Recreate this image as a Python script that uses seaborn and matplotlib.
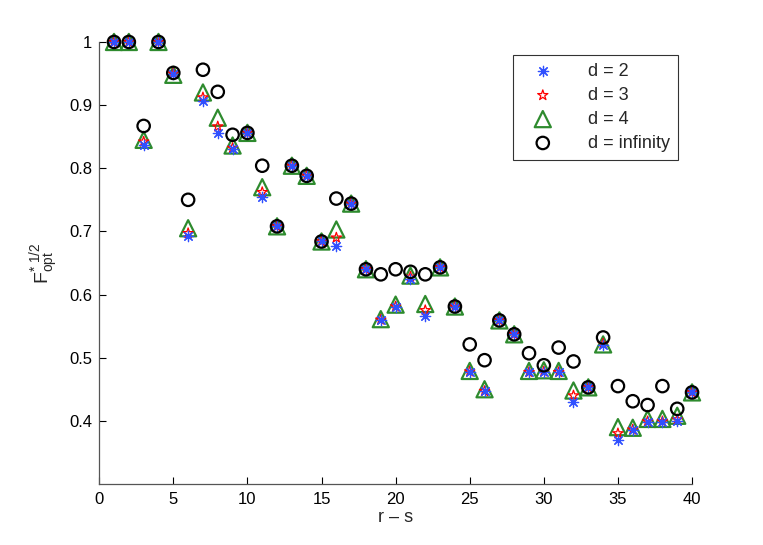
import numpy as np
import pandas as pd
import matplotlib
matplotlib.use("Agg")
import matplotlib.pyplot as plt
import seaborn as sns

# r - s
rs = list(range(1, 41))

# F_opt^{*1/2} for each d
f_d2 = [1.0, 1.0, 0.837, 1.0, 0.950, 0.692, 0.906, 0.856, 0.830, 0.856,
        0.754, 0.708, 0.804, 0.788, 0.684, 0.677, 0.744, 0.640, 0.560, 0.581,
        0.625, 0.566, 0.643, 0.581, 0.478, 0.447, 0.559, 0.537, 0.477, 0.478,
        0.477, 0.430, 0.453, 0.520, 0.369, 0.385, 0.398, 0.398, 0.400, 0.445]
f_d3 = [1.0, 1.0, 0.842, 1.0, 0.950, 0.697, 0.912, 0.866, 0.832, 0.856,
        0.762, 0.708, 0.804, 0.788, 0.684, 0.690, 0.744, 0.640, 0.560, 0.581,
        0.628, 0.575, 0.643, 0.581, 0.478, 0.447, 0.559, 0.537, 0.477, 0.478,
        0.477, 0.440, 0.453, 0.522, 0.380, 0.386, 0.399, 0.399, 0.402, 0.445]
f_d4 = [1.0, 1.0, 0.845, 1.0, 0.948, 0.705, 0.920, 0.880, 0.836, 0.856,
        0.770, 0.708, 0.804, 0.788, 0.684, 0.703, 0.744, 0.640, 0.561, 0.584,
        0.630, 0.585, 0.643, 0.581, 0.479, 0.450, 0.559, 0.537, 0.479, 0.480,
        0.479, 0.448, 0.453, 0.521, 0.390, 0.389, 0.403, 0.403, 0.408, 0.445]
f_inf = [1.0, 1.0, 0.867, 1.0, 0.951, 0.750, 0.956, 0.921, 0.853, 0.856,
         0.804, 0.708, 0.804, 0.788, 0.684, 0.752, 0.744, 0.640, 0.632, 0.640,
         0.636, 0.632, 0.643, 0.581, 0.521, 0.496, 0.559, 0.537, 0.507, 0.488,
         0.516, 0.494, 0.453, 0.532, 0.455, 0.431, 0.425, 0.455, 0.419, 0.445]

labels = ["d = 2", "d = 3", "d = 4", "d = infinity"]
xticks = [0, 5, 10, 15, 20, 25, 30, 35, 40]
yticks = [0.4, 0.5, 0.6, 0.7, 0.8, 0.9, 1.0]

sns.set_style("ticks")
plt.rcParams["font.family"] = ["Liberation Sans", "DejaVu Sans"]
plt.rcParams["mathtext.fontset"] = "custom"
plt.rcParams["mathtext.rm"] = "Liberation Sans"
plt.rcParams["mathtext.it"] = "Liberation Sans"

fig = plt.figure(figsize=(7.63, 5.45), dpi=100)
ax = fig.add_axes([0.13, 0.112, 0.777, 0.811])

df = pd.DataFrame({"rs": rs, "d2": f_d2, "d3": f_d3, "d4": f_d4, "dinf": f_inf})

sns.scatterplot(data=df, x="rs", y="d4", marker="^", s=135, facecolors="none",
                edgecolors="#2e8b2e", linewidths=1.6, label=labels[2], ax=ax,
                zorder=3, clip_on=False)
sns.scatterplot(data=df, x="rs", y="d3", marker="*", s=60, facecolors="none",
                edgecolors="red", linewidths=0.9, label=labels[1], ax=ax,
                zorder=4, clip_on=False)
sns.scatterplot(data=df, x="rs", y="d2", marker=(8, 2, 0), s=55,
                color="#3050ff", linewidths=0.9, label=labels[0], ax=ax,
                zorder=5, clip_on=False)
sns.scatterplot(data=df, x="rs", y="dinf", marker="o", s=80, facecolors="none",
                edgecolors="black", linewidths=1.6, label=labels[3], ax=ax,
                zorder=6, clip_on=False)

ax.set_xlim(0, 40)
ax.set_ylim(0.3, 1.0)
ax.set_xticks(xticks)
ax.set_yticks(yticks)
ax.set_yticklabels(["0.4", "0.5", "0.6", "0.7", "0.8", "0.9", "1"])
ax.tick_params(direction="in", length=5, width=0.8, labelsize=12, colors="black")
ax.tick_params(axis="x", pad=6)
ax.tick_params(axis="y", pad=5)
for sp in ["top", "right"]:
    ax.spines[sp].set_visible(False)
for sp in ["left", "bottom"]:
    ax.spines[sp].set_color("#555555")
    ax.spines[sp].set_linewidth(0.9)

ax.set_xlabel("r \u2013 s", fontsize=13, labelpad=1)
ax.set_ylabel(r"$\mathrm{F}_{\mathrm{opt}}^{*\ 1/2}$", fontsize=14, labelpad=6)

h, l = ax.get_legend_handles_labels()
order = [l.index(x) for x in labels]
leg = ax.legend([h[i] for i in order], labels, loc="upper left",
                bbox_to_anchor=(513 / 763, 1 - 55 / 545), bbox_transform=fig.transFigure,
                fontsize=13, frameon=True, fancybox=False, edgecolor="black",
                handletextpad=1.3, borderpad=0.45, labelspacing=0.38, borderaxespad=0,
                handlelength=2.4)
leg.get_frame().set_linewidth(0.8)

fig.savefig("out.png", dpi=100)
